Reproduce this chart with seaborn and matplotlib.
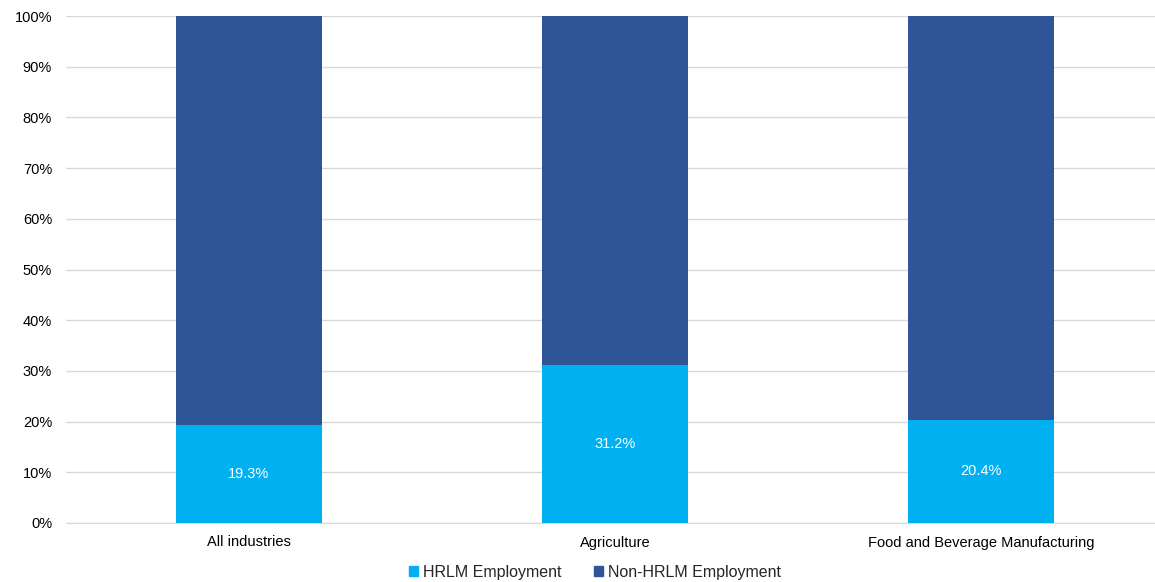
import pandas as pd
import matplotlib.pyplot as plt
import seaborn as sns
from matplotlib.patches import Patch
from matplotlib.ticker import PercentFormatter

# Data
categories = ["All industries", "Agriculture", "Food and Beverage Manufacturing"]
hrlm = [19.3, 31.2, 20.4]
non_hrlm = [100 - v for v in hrlm]

df = pd.DataFrame({"Industry": categories, "HRLM": hrlm, "NonHRLM": non_hrlm})
df["Total"] = df["HRLM"] + df["NonHRLM"]

light = "#00B0F0"
dark = "#2F5597"

sns.set_style("white")
plt.rcParams["font.family"] = ["Liberation Sans", "DejaVu Sans"]

fig = plt.figure(figsize=(11.55, 5.82), dpi=100)
ax = fig.add_axes([66 / 1155, 1 - 523 / 582, 1098 / 1155, (523 - 16) / 582])

# stacked: total behind, HRLM in front
sns.barplot(data=df, x="Industry", y="Total", color=dark, width=0.4,
            saturation=1, linewidth=0, ax=ax, zorder=2)
sns.barplot(data=df, x="Industry", y="HRLM", color=light, width=0.4,
            saturation=1, linewidth=0, ax=ax, zorder=3)

for i, v in enumerate(df["HRLM"]):
    ax.text(i, v / 2, f"{v:.1f}%", ha="center", va="center",
            color="white", fontsize=10.5, zorder=4)

ax.set_ylim(0, 100)
ax.set_xlim(-0.5, 2.5)
ax.set_yticks(range(0, 101, 10))
ax.yaxis.set_major_formatter(PercentFormatter(decimals=0))
ax.grid(axis="y", color="#D9D9D9", linewidth=1, zorder=0)
ax.set_axisbelow(True)
ax.set_xlabel("")
ax.set_ylabel("")
for s in ["top", "right", "left"]:
    ax.spines[s].set_visible(False)
ax.spines["bottom"].set_color("#D9D9D9")
ax.tick_params(axis="both", length=0, labelsize=10.5, colors="#000000")
ax.tick_params(axis="x", pad=9)
ax.tick_params(axis="y", pad=10)

handles = [Patch(color=light, label="HRLM Employment"),
           Patch(color=dark, label="Non-HRLM Employment")]
fig.legend(handles=handles, loc="center", bbox_to_anchor=(0.515, 1 - 572 / 582),
           ncol=2, frameon=False, fontsize=11.5, handlelength=0.6, handleheight=0.6,
           handletextpad=0.3, columnspacing=2.0)

plt.savefig("out.png", dpi=100)
plt.close()
